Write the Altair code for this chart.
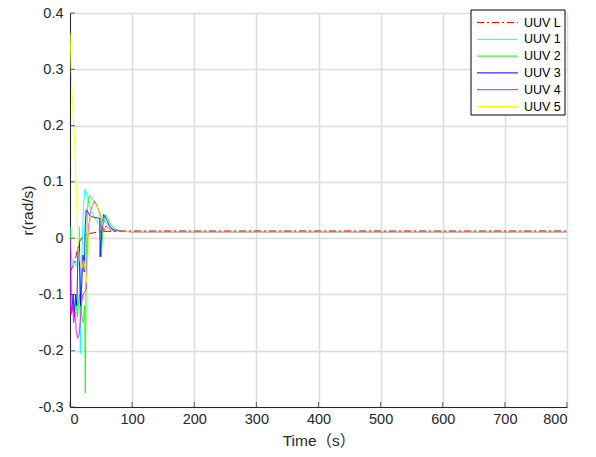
import altair as alt
import pandas as pd

# ---- data ----
series_names = ["UUV L", "UUV 1", "UUV 2", "UUV 3", "UUV 4", "UUV 5"]
series_colors = ["#FF0000", "#00FFFF", "#00FF00", "#0000FF", "#FF00FF", "#FFFF00"]

t_L = [0, 2, 5, 8, 12, 16, 20, 25, 30, 40, 50, 60, 80, 100, 800]
r_L = [-0.06, -0.055, -0.05, -0.04, -0.02, -0.005, 0.002, 0.005, 0.008, 0.010, 0.011, 0.012, 0.0125, 0.0128, 0.0128]

t_1 = [0, 2, 5, 8, 11, 14, 15.2, 16.6, 18, 20, 22, 24, 26, 28, 32, 36, 40, 44, 48, 52, 56, 60, 65, 70, 80, 100, 800]
r_1 = [0.02, -0.03, -0.05, -0.04, -0.05, -0.02, 0.02, -0.205, -0.08, 0.0, 0.06, 0.087, 0.083, 0.072, 0.055, 0.045,
       0.036, 0.028, 0.024, 0.022, 0.03, 0.025, 0.018, 0.014, 0.012, 0.0115, 0.0115]

t_2 = [0, 1.5, 3, 6, 9, 12, 15, 18, 21, 23.5, 24.7, 26, 28, 30, 32, 36, 40, 44, 48, 50, 50.5, 53, 57, 61, 65, 70,
       80, 100, 800]
r_2 = [0.02, -0.05, -0.12, -0.13, -0.11, -0.14, -0.1, -0.13, -0.15, -0.12, -0.275, -0.05, 0.05, 0.073, 0.076, 0.07,
       0.063, 0.055, 0.045, 0.04, -0.033, 0.02, 0.042, 0.035, 0.025, 0.018, 0.013, 0.0115, 0.0115]

t_3 = [0, 1, 3, 5, 7, 9, 11, 13, 15, 17, 19, 21, 23, 24.5, 26, 28, 32, 38, 44, 48, 48.5, 51, 54, 58, 62, 66, 72, 80,
       100, 800]
r_3 = [0.0, -0.12, -0.13, -0.1, -0.14, -0.1, -0.12, -0.02, -0.01, -0.12, -0.08, -0.03, -0.06, 0.02, 0.05, 0.048,
       0.04, 0.037, 0.036, 0.035, -0.033, 0.01, 0.042, 0.035, 0.025, 0.018, 0.014, 0.012, 0.0115, 0.0115]

t_4 = [0, 0.5, 2, 4, 6, 8, 10, 12.5, 15, 17, 19, 21, 24, 26, 28, 30, 33, 36, 39.5, 43, 47, 51, 54, 58, 62, 66, 72,
       80, 100, 800]
r_4 = [0.0, -0.12, -0.135, -0.12, -0.15, -0.13, -0.165, -0.178, -0.17, -0.14, -0.11, -0.1, -0.095, -0.09, -0.03,
       0.02, 0.045, 0.058, 0.065, 0.06, 0.045, 0.03, 0.012, 0.022, 0.018, 0.014, 0.012, 0.012, 0.0115, 0.0115]

t_5 = [0, 2, 4, 7, 10, 12, 14, 16, 18, 20, 22, 25, 27, 29, 31, 34, 37, 40, 43, 46, 50, 54, 58, 62, 70, 80, 100, 800]
r_5 = [0.365, 0.3, 0.24, 0.18, 0.09, 0.02, -0.02, -0.04, -0.05, -0.052, -0.04, -0.06, -0.08, -0.02, 0.02, 0.045,
       0.058, 0.062, 0.058, 0.048, 0.035, 0.02, 0.014, 0.013, 0.012, 0.012, 0.0115, 0.0115]

x_ticks = [0, 100, 200, 300, 400, 500, 600, 700, 800]
y_ticks = [-0.3, -0.2, -0.1, 0, 0.1, 0.2, 0.3, 0.4]

# ---- build table ----
rows = []
for name, ts, rs in [("UUV 1", t_1, r_1), ("UUV 2", t_2, r_2), ("UUV 3", t_3, r_3),
                     ("UUV 4", t_4, r_4), ("UUV 5", t_5, r_5), ("UUV L", t_L, r_L)]:
    for t, r in zip(ts, rs):
        rows.append({"Series": name, "t": t, "r": r})
df = pd.DataFrame(rows)

FONT = "Liberation Sans, Arial, Noto Sans CJK SC"
W, H = 497, 394

xscale = alt.Scale(domain=[0, 800], nice=False)
yscale = alt.Scale(domain=[-0.3, 0.4], nice=False)
cscale = alt.Scale(domain=series_names, range=series_colors)
dscale = alt.Scale(domain=series_names,
                   range=[[7, 3, 2, 3], [1, 0], [1, 0], [1, 0], [1, 0], [1, 0]])

lines = alt.Chart(df).mark_line(strokeWidth=1, clip=True).encode(
    x=alt.X("t:Q", scale=xscale,
            axis=alt.Axis(values=x_ticks, title="Time（s）", grid=True, tickSize=0,
                          labelPadding=5, titlePadding=8)),
    y=alt.Y("r:Q", scale=yscale,
            axis=alt.Axis(values=y_ticks, title="r(rad/s)", grid=True, tickSize=0,
                          labelPadding=7, titlePadding=3, labelExpr="toString(datum.value)")),
    color=alt.Color("Series:N", scale=cscale, legend=None),
    strokeDash=alt.StrokeDash("Series:N", scale=dscale, legend=None),
    detail="Series:N",
    order=alt.Order("t:Q"),
)

# inward ticks like the original
ytick_df = pd.DataFrame({"v": y_ticks})
xtick_df = pd.DataFrame({"v": x_ticks})
yticks = alt.Chart(ytick_df).mark_tick(color="#262626", thickness=1, size=5).encode(
    y=alt.Y("v:Q", scale=yscale), x=alt.value(2.5))
xticks = alt.Chart(xtick_df).mark_tick(color="#262626", thickness=1, size=5).encode(
    x=alt.X("v:Q", scale=xscale), y=alt.value(H - 2.5))

# legend box drawn by hand (MATLAB style: long line samples, tight rows)
legend_df = pd.DataFrame({"Series": series_names, "k": list(range(len(series_names)))})
box = alt.Chart(pd.DataFrame({"a": [0]})).mark_rect(
    fill="#FFFFFF", stroke="#000000", strokeWidth=1).encode(
    x=alt.value(401), x2=alt.value(495), y=alt.value(-3), y2=alt.value(102))
leg_base = alt.Chart(legend_df).transform_calculate(ypos="9.5 + 16.8 * datum.k")
leg_lines = leg_base.mark_rule(strokeWidth=1).encode(
    x=alt.value(407), x2=alt.value(448),
    y=alt.Y("ypos:Q", scale=None),
    color=alt.Color("Series:N", scale=cscale, legend=None),
    strokeDash=alt.StrokeDash("Series:N", scale=dscale, legend=None),
)
leg_text = leg_base.mark_text(align="left", baseline="middle", font=FONT, fontSize=12.5,
                              color="#000000").encode(
    x=alt.value(454), y=alt.Y("ypos:Q", scale=None), text="Series:N")

chart = alt.layer(lines, yticks, xticks, box, leg_lines, leg_text).properties(
    width=W, height=H,
    autosize=alt.AutoSizeParams(type="none"),
    padding={"left": 70, "top": 13, "right": 29, "bottom": 50},
    background="#FFFFFF",
).configure_view(stroke=None).configure_axis(
    labelFont=FONT, titleFont=FONT, labelFontSize=14.5, titleFontSize=15.5,
    labelColor="#262626", titleColor="#262626", titleFontWeight="normal",
    domainColor="#262626", domainWidth=1,
    gridColor="#DCDCDC", gridWidth=1.5,
)

chart.save("out.html", embed_options={"renderer": "svg", "actions": False})
